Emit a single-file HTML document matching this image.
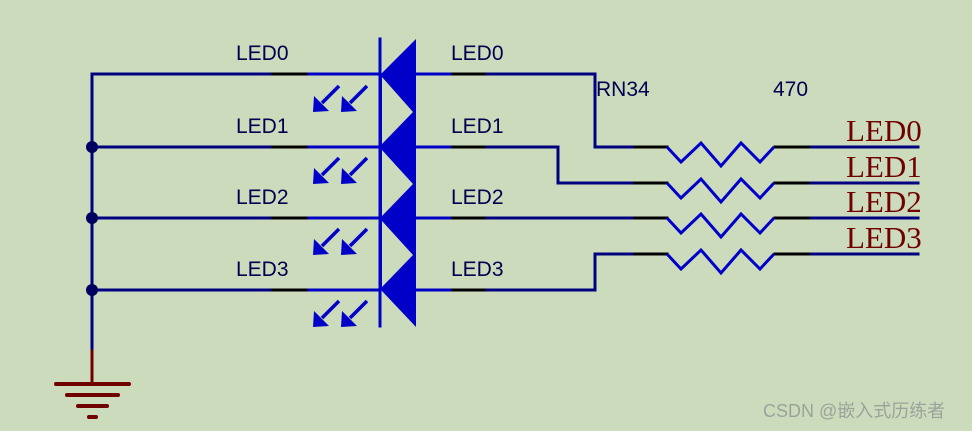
<!DOCTYPE html>
<html><head><meta charset="utf-8"><style>
html,body{margin:0;padding:0;background:#cddbbd;}
svg{display:block}
</style></head><body>
<svg width="972" height="431" viewBox="0 0 972 431" xmlns="http://www.w3.org/2000/svg">
<rect width="972" height="431" fill="#cddbbd"/>
<g stroke-width="3" fill="none" stroke-linecap="square">
<polyline points="272,74 92,74 92,349" stroke="#000080"/>
<line x1="92" y1="147" x2="272" y2="147" stroke="#000080"/>
<line x1="92" y1="218" x2="272" y2="218" stroke="#000080"/>
<line x1="92" y1="290" x2="272" y2="290" stroke="#000080"/>
<g stroke="#000000">
<line x1="273" y1="74" x2="308" y2="74"/><line x1="273" y1="147" x2="308" y2="147"/>
<line x1="273" y1="218" x2="308" y2="218"/><line x1="273" y1="290" x2="308" y2="290"/>
<line x1="451" y1="74" x2="486" y2="74"/><line x1="451" y1="147" x2="486" y2="147"/>
<line x1="451" y1="218" x2="486" y2="218"/><line x1="451" y1="290" x2="486" y2="290"/>
<line x1="633" y1="147" x2="667" y2="147"/><line x1="633" y1="183" x2="667" y2="183"/>
<line x1="633" y1="218" x2="667" y2="218"/><line x1="633" y1="254" x2="667" y2="254"/>
<line x1="775" y1="147" x2="810" y2="147"/><line x1="775" y1="183" x2="810" y2="183"/>
<line x1="775" y1="218" x2="810" y2="218"/><line x1="775" y1="254" x2="810" y2="254"/>
</g>
<g stroke="#0000c8">
<line x1="309" y1="74" x2="380" y2="74"/><line x1="309" y1="147" x2="380" y2="147"/>
<line x1="309" y1="218" x2="380" y2="218"/><line x1="309" y1="290" x2="380" y2="290"/>
<line x1="416" y1="74" x2="450" y2="74"/><line x1="416" y1="147" x2="450" y2="147"/>
<line x1="416" y1="218" x2="450" y2="218"/><line x1="416" y1="290" x2="450" y2="290"/>
<line x1="380" y1="39" x2="380" y2="326"/>
</g>
<g stroke="#000080">
<polyline points="487,74 595,74 595,147 632,147"/>
<polyline points="487,147 558,147 558,183 632,183"/>
<polyline points="487,218 632,218"/>
<polyline points="487,290 595,290 595,254 632,254"/>
<line x1="811" y1="147" x2="918" y2="147"/><line x1="811" y1="183" x2="918" y2="183"/>
<line x1="811" y1="218" x2="918" y2="218"/><line x1="811" y1="254" x2="918" y2="254"/>
</g>
<g stroke="#0000c8" stroke-linejoin="miter" stroke-linecap="butt">
<polyline points="667,147 681,162 701,143 721,166 741,143 760,162 774,147"/>
<polyline points="667,183 681,198 701,179 721,202 741,179 760,198 774,183"/>
<polyline points="667,218 681,233 701,214 721,237 741,214 760,233 774,218"/>
<polyline points="667,254 681,269 701,250 721,273 741,250 760,269 774,254"/>
</g>
<line x1="92" y1="351" x2="92" y2="384" stroke="#700000"/>
<g stroke="#700000" stroke-width="4" stroke-linecap="round">
<line x1="56" y1="384" x2="129" y2="384"/><line x1="67" y1="395" x2="118" y2="395"/>
<line x1="78" y1="406" x2="107" y2="406"/><line x1="89" y1="417" x2="96" y2="417"/>
</g>
</g>
<g fill="#000060">
<circle cx="92" cy="147" r="6"/><circle cx="92" cy="218" r="6"/><circle cx="92" cy="290" r="6"/>
</g>
<polygon points="381,74 416,39 416,327 381,290" fill="#0000c8"/>
<g fill="#cddbbd">
<polygon points="382,77 413,112 382,144"/>
<polygon points="382,150 413,184 382,216"/>
<polygon points="382,221 413,255 382,287"/>
</g>
<defs>
<g id="ar"><line x1="339" y1="86" x2="322" y2="103" stroke="#0000c8" stroke-width="3.5"/>
<polygon points="313,112 314,96 329,111" fill="#0000c8"/></g>
</defs>
<use href="#ar"/><use href="#ar" x="28"/>
<use href="#ar" y="72"/><use href="#ar" x="28" y="72"/>
<use href="#ar" y="143"/><use href="#ar" x="28" y="143"/>
<use href="#ar" y="215"/><use href="#ar" x="28" y="215"/>
<g font-family="Liberation Sans, sans-serif" font-size="21" fill="#000050">
<text x="236" y="60">LED0</text><text x="236" y="133">LED1</text>
<text x="236" y="204">LED2</text><text x="236" y="276">LED3</text>
<text x="451" y="60">LED0</text><text x="451" y="133">LED1</text>
<text x="451" y="204">LED2</text><text x="451" y="276">LED3</text>
<text x="596" y="96">RN34</text><text x="773" y="96">470</text>
</g>
<g font-family="Liberation Serif, serif" font-size="31" fill="#700000">
<text x="846" y="141">LED0</text><text x="846" y="177">LED1</text>
<text x="846" y="212">LED2</text><text x="846" y="248">LED3</text>
</g>
<text x="763" y="417" font-family="Liberation Sans, 'Noto Sans CJK SC', sans-serif" font-size="18" fill="#9aa39a">CSDN @嵌入式历练者</text>
</svg>
</body></html>
